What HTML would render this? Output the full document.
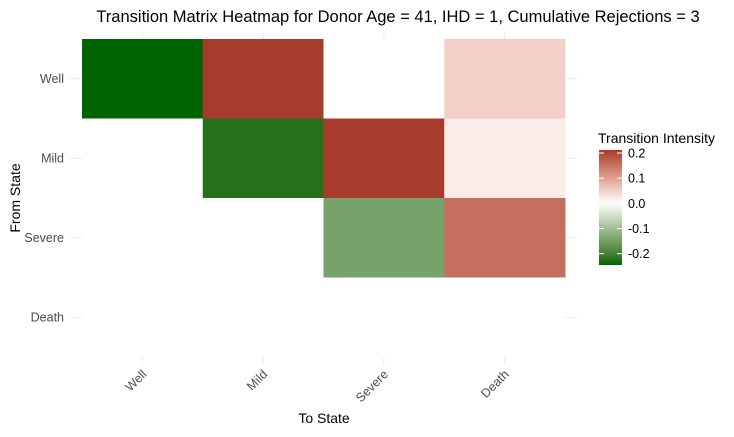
<!DOCTYPE html>
<html><head><meta charset="utf-8"><style>
body{margin:0;background:#fff;font-family:"Liberation Sans",sans-serif}
</style></head><body>
<svg id="c" width="734" height="432" xmlns="http://www.w3.org/2000/svg">
<text x="398" y="22" text-anchor="middle" font-size="16.5" fill="#000">Transition Matrix Heatmap for Donor Age = 41, IHD = 1, Cumulative Rejections = 3</text>
<g id="grid"></g><g id="tiles"></g><g id="axes"></g>
<text x="324" y="423" text-anchor="middle" font-size="14">To State</text>
<text transform="translate(20,198) rotate(-90)" text-anchor="middle" font-size="14">From State</text>
<text x="598" y="143" font-size="14">Transition Intensity</text>
<defs><linearGradient id="lg" x1="0" y1="0" x2="0" y2="1"></linearGradient></defs>
<rect x="599" y="150" width="23" height="115" fill="url(#lg)"/>
<g id="leg"></g>
</svg>
<script>
const states=["Well","Mild","Severe","Death"];
const rowWell=[-0.245,0.21,0,0.05];
const rowMild=[0,-0.225,0.21,0.02];
const rowSevere=[0,0,-0.145,0.155];
const rowDeath=[0,0,0,0];
const legendTicks=[0.2,0.1,0.0,-0.1,-0.2];
const rows=[rowWell,rowMild,rowSevere,rowDeath];
const NS="http://www.w3.org/2000/svg";
const x0=82,cw=120.75,y0=39,rh=79.5;
const vmax=0.212,vmin=-0.245;
const xc=i=>x0+cw*(i+0.5), yc=j=>y0+rh*(j+0.5);
const lv=v=>150+(vmax-v)/(vmax-vmin)*115;
function toLin(c){c/=255;return c<=0.04045?c/12.92:Math.pow((c+0.055)/1.055,2.4)}
function fromLin(c){c=c<=0.0031308?12.92*c:1.055*Math.pow(c,1/2.4)-0.055;return Math.max(0,Math.min(255,Math.round(c*255)))}
function rgb2lab(c){const [r,g,b]=c.map(toLin);let X=(0.4124*r+0.3576*g+0.1805*b)/0.95047,Y=0.2126*r+0.7152*g+0.0722*b,Z=(0.0193*r+0.1192*g+0.9505*b)/1.08883;
const f=t=>t>0.008856?Math.cbrt(t):7.787*t+16/116;const fx=f(X),fy=f(Y),fz=f(Z);return [116*fy-16,500*(fx-fy),200*(fy-fz)]}
function lab2rgb(l){const fy=(l[0]+16)/116,fx=fy+l[1]/500,fz=fy-l[2]/200;const fi=t=>t*t*t>0.008856?t*t*t:(t-16/116)/7.787;
const X=fi(fx)*0.95047,Y=fi(fy),Z=fi(fz)*1.08883;
return [3.2406*X-1.5372*Y-0.4986*Z,-0.9689*X+1.8758*Y+0.0415*Z,0.0557*X-0.2040*Y+1.0570*Z].map(fromLin)}
function mix(a,b,t){const A=rgb2lab(a),B=rgb2lab(b);return `rgb(${lab2rgb(A.map((x,i)=>x+(B[i]-x)*t)).join(",")})`}
const HI=[166,58,42],LO=[0,100,0],W=[255,255,255];
function col(v){return v>=0?mix(W,HI,Math.min(1,v/vmax)):mix(W,LO,Math.min(1,v/vmin))}
function mk(t,a,p){const e=document.createElementNS(NS,t);for(const k in a)e.setAttribute(k,a[k]);p.appendChild(e);return e}
const grad=document.getElementById("lg");
for(let k=0;k<=20;k++){const v=vmax-(vmax-vmin)*k/20;mk("stop",{offset:k/20,"stop-color":col(v)},grad);}
const g=document.getElementById("grid"),tl=document.getElementById("tiles"),ax=document.getElementById("axes"),lg=document.getElementById("leg");
states.forEach((s,i)=>{
 const l=mk("line",{x1:xc(i),x2:xc(i),y1:31,y2:365,stroke:"#ebebeb"},g);
 
 
 const h=mk("line",{x1:70,x2:577,y1:yc(i),y2:yc(i),stroke:"#ebebeb"},g);
 
 
 const tx=mk("text",{x:xc(i)+5,y:375,"text-anchor":"end","font-size":12.5,fill:"#4d4d4d",transform:`rotate(-45 ${xc(i)+5} 375)`},ax);
 tx.textContent=s;
 
 
 const ty=mk("text",{x:64,y:yc(i)+4,"text-anchor":"end","font-size":12.5,fill:"#4d4d4d"},ax);
 ty.textContent=s;
 
 
});
rows.forEach((r,j)=>r.forEach((v,i)=>{
 const t=mk("rect",{x:x0+cw*i,y:y0+rh*j,width:cw+0.5,height:rh+0.5,fill:col(v)},tl);
 
 
}));
legendTicks.forEach(v=>{
 const y=lv(v);
 const a=mk("line",{x1:599,x2:604,y1:y,y2:y,stroke:"#fff"},lg);
 
 
 const b=mk("line",{x1:617,x2:622,y1:y,y2:y,stroke:"#fff"},lg);
 
 
 const t=mk("text",{x:628,y:y+4.5,"font-size":12.5,fill:"#000"},lg);
 t.textContent=v.toFixed(1);
 
 
});
</script>
</body></html>
